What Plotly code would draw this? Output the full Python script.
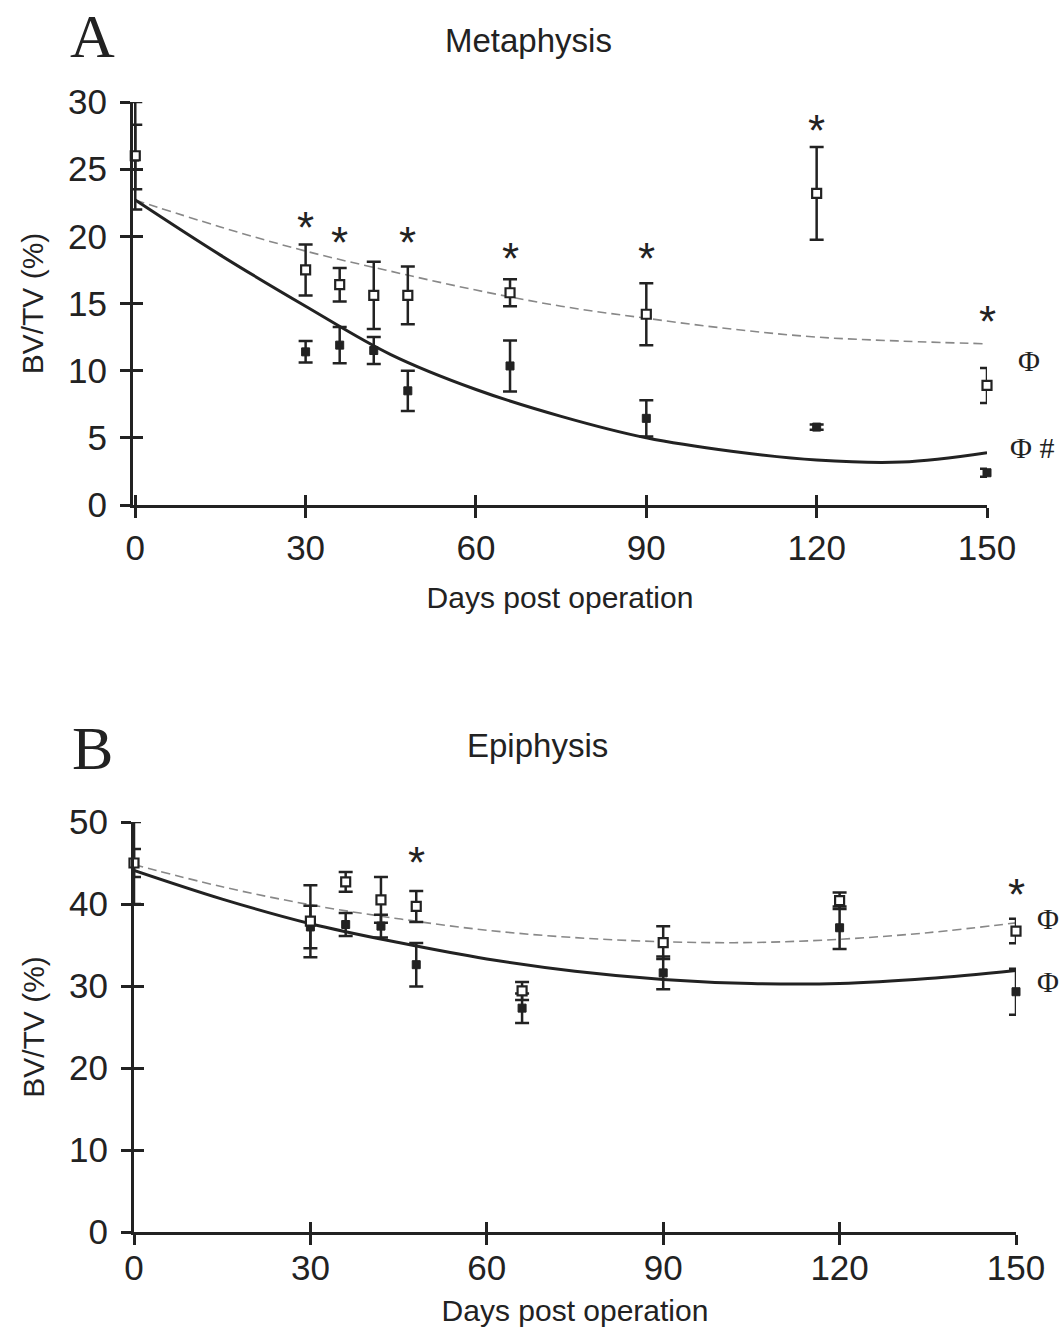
import plotly.graph_objects as go

# ---------------- data ----------------
days = [0, 30, 36, 42, 48, 66, 90, 120, 150]

# Panel A - Metaphysis
A_open = [26.0, 17.5, 16.4, 15.6, 15.6, 15.8, 14.2, 23.2, 8.9]
A_open_err = [4.0, 1.9, 1.25, 2.5, 2.15, 1.0, 2.3, 3.45, 1.3]
A_filled = [25.9, 11.4, 11.9, 11.5, 8.5, 10.35, 6.45, 5.8, 2.4]
A_filled_err = [2.4, 0.8, 1.35, 1.0, 1.5, 1.9, 1.35, 0.2, 0.3]

# Panel B - Epiphysis
B_open = [45.0, 37.9, 42.7, 40.5, 39.7, 29.4, 35.3, 40.4, 36.7]
B_open_err = [5.0, 4.4, 1.2, 2.8, 1.9, 1.1, 2.0, 1.0, 1.5]
B_filled = [45.0, 37.2, 37.5, 37.3, 32.6, 27.3, 31.6, 37.1, 29.3]
B_filled_err = [1.7, 2.6, 1.4, 1.4, 2.65, 1.8, 2.0, 2.6, 2.8]

# Trend curves
fit_days = [0, 15, 30, 45, 60, 75, 90, 105, 120, 135, 150]
A_fit_open = [22.7, 20.7, 18.9, 17.4, 16.0, 14.8, 13.9, 13.1, 12.5, 12.2, 12.0]
A_fit_filled = [22.7, 18.6, 14.8, 11.2, 8.6, 6.6, 5.0, 4.0, 3.35, 3.2, 3.9]
B_fit_open = [44.8, 42.1, 39.9, 38.2, 36.8, 35.9, 35.4, 35.3, 35.7, 36.5, 37.7]
B_fit_filled = [44.1, 40.6, 37.6, 35.3, 33.3, 31.8, 30.8, 30.3, 30.3, 30.9, 31.9]

# Significance marks
A_star_x = [30, 36, 48, 66, 90, 120, 150]
A_star_y = [21.0, 19.95, 19.95, 18.7, 18.7, 28.25, 14.0]
B_star_x = [48, 150]
B_star_y = [45.7, 41.8]
phi_labels = ["Φ", "Φ #", "Φ", "Φ"]

x_ticks = [0, 30, 60, 90, 120, 150]
A_y_ticks = [0, 5, 10, 15, 20, 25, 30]
B_y_ticks = [0, 10, 20, 30, 40, 50]

# ---------------- layout helpers ----------------
W, H = 1064, 1327
DARK = "#222222"
GREY = "#888888"
SANS = "Arial, Liberation Sans, sans-serif"
SERIF = "Times New Roman, Liberation Serif, serif"


def px(x):
    return x / W


def py(y):
    return 1 - y / H


A_dom_x = [px(133), px(987)]
A_dom_y = [py(505), py(102)]
B_dom_x = [px(134), px(1016)]
B_dom_y = [py(1232), py(822)]
A_xrange = [-0.4, 150]

fig = go.Figure()


def add_panel(xa, ya, o, oe, f, fe, fo, ff):
    fig.add_trace(go.Scatter(x=fit_days, y=fo, mode="lines", line=dict(color=GREY, width=1.6, dash="9px,5px"),
                             line_shape="spline", xaxis=xa, yaxis=ya, showlegend=False, hoverinfo="skip",
                             cliponaxis=False))
    fig.add_trace(go.Scatter(x=fit_days, y=ff, mode="lines", line=dict(color=DARK, width=3),
                             line_shape="spline", xaxis=xa, yaxis=ya, showlegend=False, hoverinfo="skip",
                             cliponaxis=False))
    fig.add_trace(go.Scatter(x=days, y=f, mode="markers",
                             marker=dict(symbol="square", size=8, color=DARK, line=dict(color=DARK, width=1)),
                             error_y=dict(type="data", array=fe, color=DARK, thickness=2.5, width=7),
                             xaxis=xa, yaxis=ya, showlegend=False, cliponaxis=False))
    fig.add_trace(go.Scatter(x=days, y=o, mode="markers",
                             marker=dict(symbol="square", size=9, color="white", line=dict(color=DARK, width=2.2)),
                             error_y=dict(type="data", array=oe, color=DARK, thickness=2.5, width=7),
                             xaxis=xa, yaxis=ya, showlegend=False, cliponaxis=False))


add_panel("x", "y", A_open, A_open_err, A_filled, A_filled_err, A_fit_open, A_fit_filled)
add_panel("x2", "y2", B_open, B_open_err, B_filled, B_filled_err, B_fit_open, B_fit_filled)

for xa, ya in [("x3", "y3"), ("x4", "y4")]:
    fig.add_trace(go.Scatter(x=[None], y=[None], mode="markers", xaxis=xa, yaxis=ya,
                             showlegend=False, hoverinfo="skip"))

tickfont = dict(family=SANS, size=35, color=DARK)
titlefont = dict(family=SANS, size=30, color=DARK)

common_x = dict(showline=True, linecolor=DARK, linewidth=3, ticks="outside", ticklen=10, tickwidth=2.5,
                tickcolor=DARK, tickfont=tickfont, showgrid=False, zeroline=False, tickvals=x_ticks,
                fixedrange=True, automargin=False)
common_y = dict(showline=True, linecolor=DARK, linewidth=3, ticks="outside", ticklen=10, tickwidth=2.5,
                tickcolor=DARK, tickfont=tickfont, showgrid=False, zeroline=False, fixedrange=True,
                automargin=False)

overlay_x = dict(showline=False, ticks="inside", ticklen=10, tickwidth=2.5, tickcolor=DARK,
                 showticklabels=False, showgrid=False, zeroline=False, tickvals=x_ticks,
                 automargin=False)
overlay_y = dict(showline=False, ticks="inside", ticklen=10, tickwidth=2.5, tickcolor=DARK,
                 showticklabels=False, showgrid=False, zeroline=False, automargin=False)

fig.update_layout(
    width=W, height=H, margin=dict(l=0, r=0, t=0, b=0, autoexpand=False),
    paper_bgcolor="white", plot_bgcolor="white",
    xaxis=dict(domain=A_dom_x, anchor="y", range=A_xrange, **common_x, ticklabelstandoff=0,
               title=dict(text="Days post operation", font=titlefont, standoff=21)),
    yaxis=dict(domain=A_dom_y, anchor="x", range=[0, 30], tickvals=A_y_ticks, **common_y, ticklabelstandoff=6,
               title=dict(text="BV/TV (%)", font=titlefont, standoff=16)),
    xaxis2=dict(domain=B_dom_x, anchor="y2", range=[0, 150], **common_x, ticklabelstandoff=-7,
                title=dict(text="Days post operation", font=titlefont, standoff=21)),
    yaxis2=dict(domain=B_dom_y, anchor="x2", range=[0, 50], tickvals=B_y_ticks, **common_y, ticklabelstandoff=6,
                title=dict(text="BV/TV (%)", font=titlefont, standoff=16)),
    xaxis3=dict(overlaying="x", anchor="y3", domain=A_dom_x, range=A_xrange, **overlay_x),
    yaxis3=dict(overlaying="y", anchor="x3", domain=A_dom_y, range=[0, 30], tickvals=A_y_ticks, **overlay_y),
    xaxis4=dict(overlaying="x2", anchor="y4", domain=B_dom_x, range=[0, 150], **overlay_x),
    yaxis4=dict(overlaying="y2", anchor="x4", domain=B_dom_y, range=[0, 50], tickvals=B_y_ticks, **overlay_y),
)

ann = []


def paper_text(t, x, y, font, xanchor="center"):
    ann.append(dict(text=t, x=px(x), y=py(y), xref="paper", yref="paper", showarrow=False,
                    xanchor=xanchor, yanchor="middle", font=font))


paper_text("A", 92, 36, dict(family=SERIF, size=62, color=DARK))
paper_text("B", 92, 748, dict(family=SERIF, size=62, color=DARK))
paper_text("Metaphysis", 528, 41, dict(family=SANS, size=33, color=DARK))
paper_text("Epiphysis", 537, 745, dict(family=SANS, size=33, color=DARK))
for sx, sy in zip(A_star_x, A_star_y):
    ann.append(dict(text="*", x=sx, y=sy, xref="x", yref="y", showarrow=False, yshift=-5,
                    xanchor="center", yanchor="middle", font=dict(family=SANS, size=44, color=DARK)))
for sx, sy in zip(B_star_x, B_star_y):
    ann.append(dict(text="*", x=sx, y=sy, xref="x2", yref="y2", showarrow=False, yshift=-5,
                    xanchor="center", yanchor="middle", font=dict(family=SANS, size=44, color=DARK)))
phi_pos = [(1016, 360), (1008, 447), (1035, 918), (1035, 981)]
for t, (lx, ly) in zip(phi_labels, phi_pos):
    paper_text(t, lx, ly, dict(family=SERIF, size=30, color=DARK), xanchor="left")
fig.update_layout(annotations=ann)

fig.write_html("out.html", config={"displayModeBar": False},
               post_script="document.body.style.margin='0px';")
